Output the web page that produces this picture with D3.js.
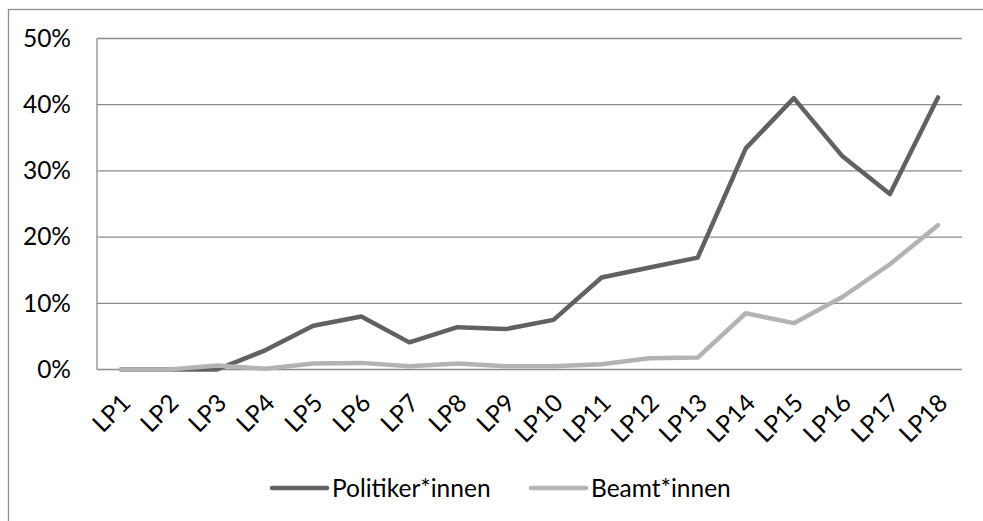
<!DOCTYPE html>
<html><head><meta charset="utf-8">
<script src="https://cdn.jsdelivr.net/npm/d3@7/dist/d3.min.js"></script>
<style>html,body{margin:0;padding:0;background:#fff;overflow:hidden}</style>
</head><body><svg id="c" width="983" height="521"></svg>
<script>
const categories = ["LP1","LP2","LP3","LP4","LP5","LP6","LP7","LP8","LP9","LP10","LP11","LP12","LP13","LP14","LP15","LP16","LP17","LP18"];
const politiker = [0.0,0.0,0.0,2.9,6.6,8.0,4.1,6.4,6.1,7.5,13.9,15.4,16.9,33.4,41.0,32.3,26.5,41.1];
const beamt = [0.0,0.0,0.6,0.1,0.9,1.0,0.5,0.9,0.5,0.5,0.8,1.7,1.8,8.5,7.0,10.9,15.9,21.8];
const yTicks = [0,10,20,30,40,50];
const seriesNames = ["Politiker*innen","Beamt*innen"];
const colors = ["#616161","#b3b3b3"];

const font = "Lato, 'Open Sans', sans-serif";
const fs = 24.5;
const svg = d3.select("#c");
svg.append("rect").attr("x",8.5).attr("y",9.5).attr("width",1200).attr("height",1200)
  .attr("fill","none").attr("stroke","#8f8f8f").attr("stroke-width",1.3);

const L=97, R=962, T=38.5, B=369.5;
const x = d3.scaleBand().domain(categories).range([L,R]);
const y = d3.scaleLinear().domain([0,50]).range([B,T]);

const g = svg.append("g");
g.selectAll(".grid").data(yTicks).join("line")
  .attr("x1",L).attr("x2",R).attr("y1",d=>y(d)).attr("y2",d=>y(d))
  .attr("stroke","#8c8c8c").attr("stroke-width",1.3);
g.append("line").attr("x1",L).attr("x2",L).attr("y1",T).attr("y2",B)
  .attr("stroke","#8c8c8c").attr("stroke-width",1.3);

const yAxis = d3.axisLeft(y).tickValues(yTicks).tickFormat(d=>d+"%").tickSize(0).tickPadding(26);
const ya = svg.append("g").attr("transform",`translate(${L},0)`).call(yAxis);
ya.select(".domain").remove();
ya.selectAll("text").attr("font-family",font).attr("font-size",fs).attr("fill","#000");

const xAxis = d3.axisBottom(x).tickSize(0).tickPadding(0);
const xa = svg.append("g").attr("transform",`translate(0,${B})`).call(xAxis);
xa.select(".domain").remove();
xa.selectAll("text").attr("font-family",font).attr("font-size",fs).attr("fill","#000")
  .attr("text-anchor","end").attr("dy",0)
  .attr("transform","translate(11,35) rotate(-45)");

const cx = d => x(d)+x.bandwidth()/2;
const line = d3.line().x((d,i)=>cx(categories[i])).y(d=>y(d));
[politiker,beamt].forEach((s,k)=>{
  svg.append("path").datum(s).attr("d",line).attr("fill","none")
    .attr("stroke",colors[k]).attr("stroke-width",4.5)
    .attr("stroke-linejoin","round").attr("stroke-linecap","round");
});

const legX = [272,531], legY = 488;
seriesNames.forEach((n,k)=>{
  svg.append("line").attr("x1",legX[k]).attr("x2",legX[k]+55).attr("y1",legY).attr("y2",legY)
    .attr("stroke",colors[k]).attr("stroke-width",4.5).attr("stroke-linecap","round");
  svg.append("text").attr("x",legX[k]+60).attr("y",legY).attr("dy","0.35em")
    .attr("font-family",font).attr("font-size",fs).text(n);
});
</script></body></html>
